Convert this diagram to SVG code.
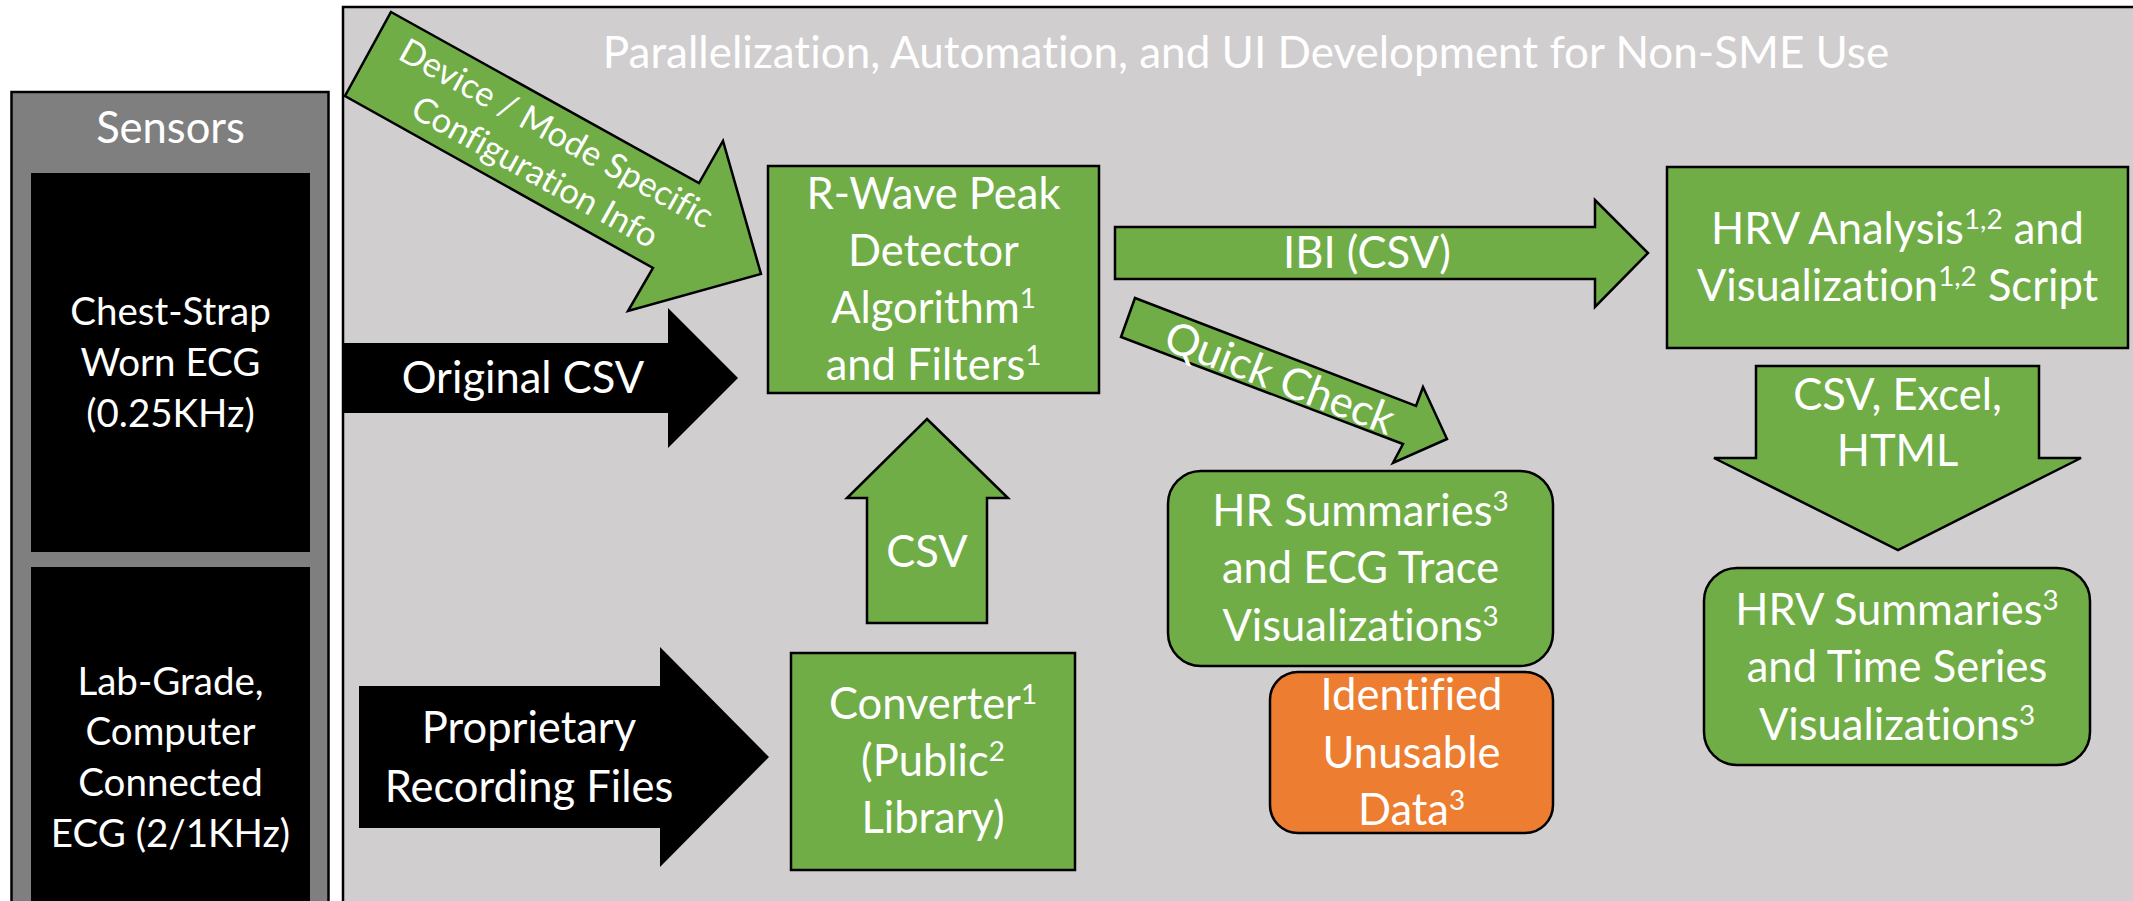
<svg xmlns="http://www.w3.org/2000/svg" width="2133" height="901" viewBox="0 0 2133 901">
  <style>
    text { font-family: Lato, "Liberation Sans", sans-serif; fill: #ffffff; text-anchor: middle; font-variant-ligatures: none; }
    .green { fill: #70AD47; stroke: #000000; stroke-width: 2.5; stroke-linejoin: miter; }
    .orange { fill: #ED7D31; stroke: #000000; stroke-width: 2.5; }
    .dark { fill: #000000; }
    .node { font-size: 43.5px; }
    .lbl { font-size: 43.5px; }
    .sens { font-size: 38.5px; }
    .sup { font-size: 0.64em; }
  </style>

  <rect width="2133" height="901" fill="#ffffff"/>

  <!-- sensor column -->
  <g id="sensors">
    <rect x="11.5" y="92" width="317" height="860" fill="#7F7F7F" stroke="#000000" stroke-width="2.5"/>
    <text x="170.5" y="143" font-size="43.5">Sensors</text>
    <g id="chest-strap">
      <rect x="31" y="173" width="279" height="379" class="dark"/>
      <text class="sens" x="170.5" y="325">Chest-Strap</text>
      <text class="sens" x="170.5" y="376">Worn ECG</text>
      <text class="sens" x="170.5" y="427">(0.25KHz)</text>
    </g>
    <g id="lab-grade">
      <rect x="31" y="567" width="279" height="400" class="dark"/>
      <text class="sens" x="170.5" y="695">Lab-Grade,</text>
      <text class="sens" x="170.5" y="745">Computer</text>
      <text class="sens" x="170.5" y="796">Connected</text>
      <text class="sens" x="170.5" y="847">ECG (2/1KHz)</text>
    </g>
  </g>

  <!-- processing panel -->
  <g id="panel">
    <rect x="343" y="7" width="1900" height="1000" fill="#D0CECE" stroke="#000000" stroke-width="2.5"/>
    <text x="1246" y="68" font-size="44">Parallelization, Automation, and UI Development for Non-SME Use</text>
  </g>

  <!-- block arrows -->
  <g id="connectors">
    <g id="arrow-config">
      <polygon class="green" points="391,12 699,183 723,141 761,274 628,311 653,268 345,96"/>
      <g transform="translate(540,163) rotate(29)">
        <text x="0" y="-22" font-size="34.5">Device / Mode Specific</text>
        <text x="0" y="22" font-size="34.5">Configuration Info</text>
      </g>
    </g>
    <g id="arrow-original-csv">
      <polygon class="dark" points="344,343 668,343 668,308 738,378 668,448 668,413 344,413"/>
      <text class="lbl" x="523" y="393">Original CSV</text>
    </g>
    <g id="arrow-proprietary">
      <polygon class="dark" points="359,686 660,686 660,647 769,757 660,867 660,828 359,828"/>
      <text class="lbl" x="529" y="743">Proprietary</text>
      <text class="lbl" x="529" y="802">Recording Files</text>
    </g>
    <g id="arrow-csv">
      <polygon class="green" points="927,419 1008,498 987,498 987,623 867,623 867,498 847,498"/>
      <text class="node" x="927" y="567">CSV</text>
    </g>
    <g id="arrow-ibi">
      <polygon class="green" points="1115,227 1595,227 1595,200 1648,253 1595,307 1595,279 1115,279"/>
      <text class="node" x="1367" y="268">IBI (CSV)</text>
    </g>
    <g id="arrow-quick-check">
      <polygon class="green" points="1135,298 1416,406 1423,387 1447,439 1393,463 1403,444 1121,337"/>
      <g transform="translate(1280,378) rotate(21)">
        <text class="lbl" x="0" y="15">Quick Check</text>
      </g>
    </g>
    <g id="arrow-outputs">
      <polygon class="green" points="1756,366 2039,366 2039,458 2081,458 1898,550 1714,458 1756,458"/>
      <text class="node" x="1897.5" y="410">CSV, Excel,</text>
      <text class="node" x="1897.5" y="466">HTML</text>
    </g>
  </g>

  <!-- processing steps -->
  <g id="peak-detector">
    <rect class="green" x="768" y="166" width="331" height="227"/>
    <text class="node" x="933.5" y="209">R-Wave Peak</text>
    <text class="node" x="933.5" y="266">Detector</text>
    <text class="node" x="933.5" y="323">Algorithm<tspan class="sup" dy="-15">1</tspan></text>
    <text class="node" x="933.5" y="380">and Filters<tspan class="sup" dy="-15">1</tspan></text>
  </g>

  <g id="converter">
    <rect class="green" x="791" y="653" width="284" height="217"/>
    <text class="node" x="933" y="719">Converter<tspan class="sup" dy="-15">1</tspan></text>
    <text class="node" x="933" y="776">(Public<tspan class="sup" dy="-15">2</tspan></text>
    <text class="node" x="933" y="833">Library)</text>
  </g>

  <g id="hr-summaries">
    <rect class="green" x="1168" y="471" width="385" height="195" rx="33" ry="33"/>
    <text class="node" x="1360.5" y="526">HR Summaries<tspan class="sup" dy="-15">3</tspan></text>
    <text class="node" x="1360.5" y="583">and ECG Trace</text>
    <text class="node" x="1360.5" y="641">Visualizations<tspan class="sup" dy="-15">3</tspan></text>
  </g>

  <g id="unusable-data">
    <rect class="orange" x="1270" y="672" width="283" height="161" rx="28" ry="28"/>
    <text class="node" x="1411.5" y="710">Identified</text>
    <text class="node" x="1411.5" y="768">Unusable</text>
    <text class="node" x="1411.5" y="825">Data<tspan class="sup" dy="-15">3</tspan></text>
  </g>

  <g id="hrv-analysis">
    <rect class="green" x="1667" y="167" width="461" height="181"/>
    <text class="node" x="1897.5" y="244">HRV Analysis<tspan class="sup" dy="-15">1,2</tspan><tspan dy="15"> and</tspan></text>
    <text class="node" x="1897.5" y="301">Visualization<tspan class="sup" dy="-15">1,2</tspan><tspan dy="15"> Script</tspan></text>
  </g>

  <g id="hrv-summaries">
    <rect class="green" x="1704" y="568" width="386" height="197" rx="33" ry="33"/>
    <text class="node" x="1897" y="625">HRV Summaries<tspan class="sup" dy="-15">3</tspan></text>
    <text class="node" x="1897" y="682">and Time Series</text>
    <text class="node" x="1897" y="740">Visualizations<tspan class="sup" dy="-15">3</tspan></text>
  </g>
</svg>
